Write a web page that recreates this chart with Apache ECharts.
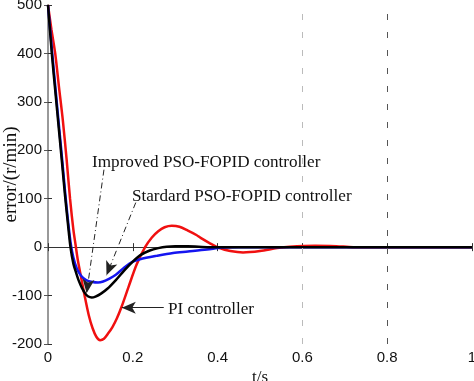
<!DOCTYPE html>
<html><head><meta charset="utf-8">
<script src="https://cdn.jsdelivr.net/npm/echarts@6/dist/echarts.min.js"></script>
<style>html,body{margin:0;padding:0;background:#fff}#c{width:474px;height:381px}</style>
</head><body><div id="c"></div>
<script>
// Data (t in s, error in r/min)
var tPI = [0,0.008,0.017,0.026,0.035,0.044,0.052,0.06,0.065,0.07,0.078,0.087,0.096,0.105,0.114,0.123,0.132,0.142,0.152,0.162,0.174,0.19,0.209,0.229,0.245,0.26,0.275,0.292,0.31,0.33,0.35,0.36,0.38,0.405,0.43,0.46,0.5,0.54,0.57,0.63,0.68,0.72,0.8,1.0];
var yPI = [500,450,400,330,262,180,100,35,5,-25,-62,-103,-140,-167,-185,-192,-189,-178,-165,-148,-122,-82,-36,0,20,33,41,44,42,34,25,19,9,-2,-8,-11,-8,-2,1,3,2,0,0,0];
var tStd = [0,0.009,0.018,0.026,0.033,0.04,0.047,0.053,0.06,0.066,0.072,0.08,0.088,0.095,0.103,0.112,0.125,0.14,0.16,0.18,0.2,0.217,0.24,0.26,0.28,0.3,0.33,0.38,0.5,1.0];
var yStd = [500,400,315,240,175,108,48,0,-35,-52,-68,-84,-96,-102,-104,-102,-96,-86,-68,-48,-30,-17,-7,-2,1,2,2,0,0,0];
var tImp = [0,0.01,0.019,0.027,0.034,0.041,0.048,0.054,0.06,0.068,0.078,0.09,0.105,0.118,0.13,0.145,0.16,0.18,0.2,0.217,0.256,0.295,0.33,0.375,0.41,0.45,0.6,1.0];
var yImp = [500,400,315,240,175,108,48,5,-22,-44,-59,-68,-72,-73,-71,-65,-57,-42,-30,-25,-18,-12,-9,-5,-1,0,0,0];
var xTicks = [0,0.2,0.4,0.6,0.8,1];
var yTicks = [-200,-100,0,100,200,300,400,500];
var labels = ['Improved PSO-FOPID controller','Stardard PSO-FOPID controller','PI controller'];
var labelPos = [[0.104,174],[0.198,103],[0.283,-129]];
var arrows = [[[0.132,160],[0.091,-95]],[[0.207,92],[0.138,-58]],[[0.273,-125],[0.174,-125]]];
var dashLines = [0.6,0.8];

function zip(a,b){return a.map(function(v,i){return [v,b[i]];});}
var chart = echarts.init(document.getElementById('c'));
var serif = '"Liberation Serif","Times New Roman",serif';
var sans = '"Liberation Sans",Arial,sans-serif';
chart.setOption({
  animation:false,
  grid:{left:48,right:2,top:5,bottom:37,containLabel:false,outerBoundsMode:'none'},
  xAxis:[
    {type:'value',min:0,max:1,interval:0.2,position:'bottom',
     name:'t/s',nameLocation:'middle',nameGap:25,nameMoveOverlap:false,nameTextStyle:{fontFamily:serif,fontSize:17,color:'#111'},
     axisLine:{lineStyle:{color:'#333'}},axisTick:{inside:true,length:4,lineStyle:{color:'#333'}},splitLine:{show:false},
     axisLabel:{fontFamily:sans,fontSize:15,color:'#111',margin:6,formatter:function(v){return String(+v.toFixed(1));}}},
    {type:'value',min:0,max:1,interval:0.2,position:'top',
     axisLine:{lineStyle:{color:'#333'}},axisTick:{inside:true,length:4,lineStyle:{color:'#333'}},splitLine:{show:false},axisLabel:{show:false}}
  ],
  yAxis:[
    {type:'value',min:-200,max:500,interval:100,position:'left',
     name:'error/(r/min)',nameLocation:'middle',nameGap:27,nameMoveOverlap:false,nameRotate:90,nameTextStyle:{fontFamily:serif,fontSize:19,color:'#111'},
     axisLine:{show:true,lineStyle:{color:'#333'}},axisTick:{show:true,inside:true,length:4,lineStyle:{color:'#333'}},splitLine:{show:false},
     axisLabel:{fontFamily:sans,fontSize:15,color:'#111',margin:6}},
    {type:'value',min:-200,max:500,interval:100,position:'right',
     axisLine:{show:true,lineStyle:{color:'#999',width:2}},axisTick:{show:true,inside:true,length:4,lineStyle:{color:'#555'}},splitLine:{show:false},axisLabel:{show:false}}
  ],
  series:[
    {type:'line',data:zip(tPI,yPI),smooth:0.3,showSymbol:false,lineStyle:{color:'#f01010',width:2.5},z:2,
     markLine:{silent:true,symbol:'none',label:{show:false},
       data:[{xAxis:dashLines[0],lineStyle:{color:'#bbb',type:[6,12],width:1}},{xAxis:dashLines[1],lineStyle:{color:'#555',type:[6,12],width:1}}]}},
    {type:'line',data:zip(tImp,yImp),smooth:0.3,showSymbol:false,lineStyle:{color:'#1515f0',width:2.5},z:3},
    {type:'line',data:zip(tStd,yStd),smooth:0.3,showSymbol:false,lineStyle:{color:'#000',width:2.5},z:4,
     markLine:{silent:true,symbol:['none','arrow'],symbolSize:[9,14],label:{show:false},
       data:[
         [{coord:arrows[0][0],lineStyle:{color:'#222',type:[6,3,1,3],width:1}},{coord:arrows[0][1]}],
         [{coord:arrows[1][0],lineStyle:{color:'#222',type:[6,3,1,3],width:1}},{coord:arrows[1][1]}],
         [{coord:arrows[2][0],lineStyle:{color:'#222',type:'solid',width:1}},{coord:arrows[2][1]}]
       ]}}
  ]
});
var g = labels.map(function(s,i){
  var p = chart.convertToPixel({xAxisIndex:0,yAxisIndex:0},labelPos[i]);
  return {type:'text',x:p[0],y:p[1],scaleX:1.07,style:{text:s,fontFamily:serif,fontSize:16,fill:'#111',verticalAlign:'middle'}};
});
chart.setOption({graphic:g});
</script></body></html>
